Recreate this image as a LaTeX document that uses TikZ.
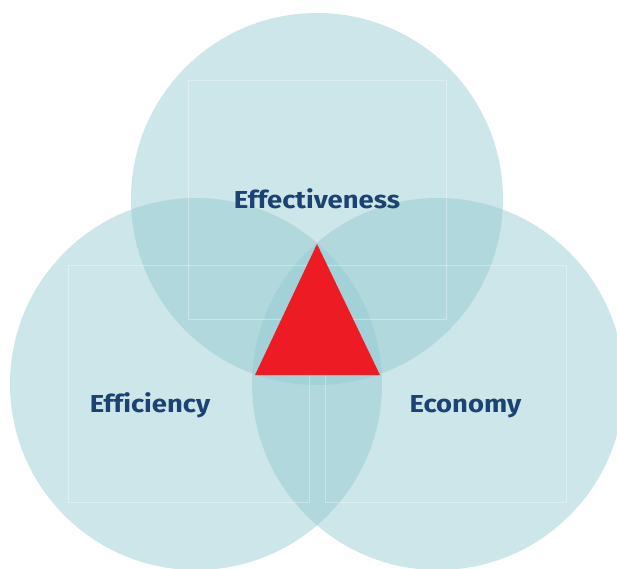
\documentclass[tikz,border=0pt]{standalone}
\usepackage{fontspec}
\setmainfont{Fira Sans}
\newfontfamily\lblfont[FakeStretch=1.12, Ligatures=CommonOff]{Fira Sans Bold}
\definecolor{circfill}{RGB}{146,201,209}
\definecolor{labelblue}{RGB}{27,66,115}
\definecolor{trired}{RGB}{237,28,36}
\tikzset{
  venn/.style={fill=circfill, fill opacity=0.46, draw=none},
  guide/.style={draw=white, draw opacity=0.35, line width=0.6pt},
  lbl/.style={text=labelblue, font=\lblfont\fontsize{24.5}{28}\selectfont, inner sep=0pt, anchor=base},
}
\begin{document}
\begin{tikzpicture}[x=1pt,y=-1pt]
\useasboundingbox (0,0) rectangle (617,568);
\clip (0,0) rectangle (617,568);
\fill[white] (0,0) rectangle (617,568);
% circles
\fill[venn] (317,199) circle (186);
\fill[venn] (196,384) circle (186);
\fill[venn] (438,384) circle (186);
% faint guide rectangles
\draw[guide] (188,80) rectangle (446,319);
\draw[guide] (68,265) rectangle (309,502);
\draw[guide] (325,265) rectangle (566,502);
% triangle
\coordinate (apex) at (317,244);
\coordinate (bl) at (255,375);
\coordinate (br) at (380,375);
\fill[trired] (apex) -- (bl) -- (br) -- cycle;
% labels
\node[lbl] (eff) at (317,208) {Effectiveness};
\node[lbl] (efi) at (150,412) {Efficiency};
\node[lbl] (eco) at (465.5,412) {Economy};
\end{tikzpicture}
\end{document}
